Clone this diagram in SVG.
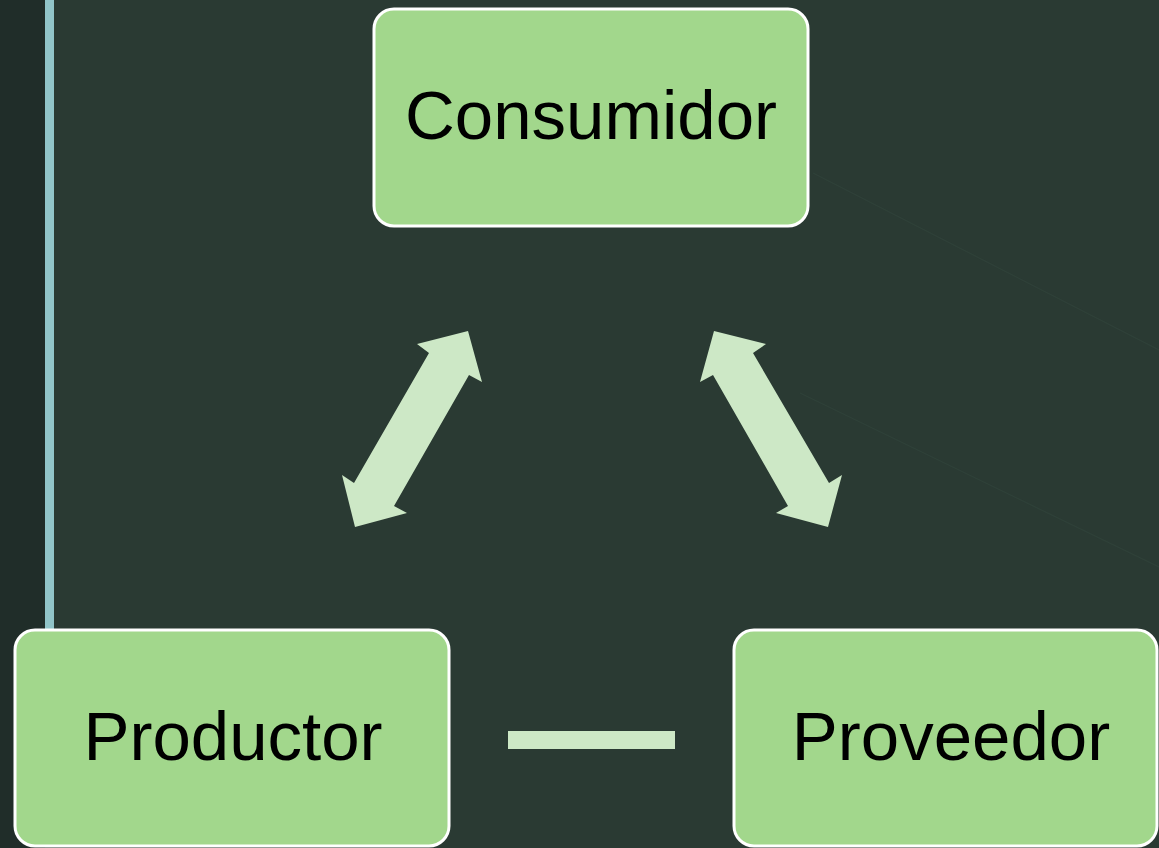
<svg xmlns="http://www.w3.org/2000/svg" width="1159" height="848" viewBox="0 0 1159 848">
<defs>
<style>
.node rect{fill:#a2d78c;stroke:#ffffff;stroke-width:3}
.node text{font-family:"Liberation Sans",Arial,sans-serif;font-size:69px;fill:#000000;text-anchor:middle}
.conn{fill:#cde8c6}
.deco{stroke:#2f4139;stroke-width:1.2;fill:none}
</style>
</defs>
<rect x="0" y="0" width="1159" height="848" fill="#2a3a33"/>
<rect x="0" y="0" width="45" height="848" fill="#202d29"/>
<rect x="45" y="0" width="9" height="630" fill="#91c4c8"/>
<line class="deco" x1="813" y1="173" x2="1159" y2="350"/>
<line class="deco" x1="800" y1="393" x2="1159" y2="567"/>
<g id="connectors">
<polygon class="conn" points="468,331 482,382 469,375 394,506 407,513 355,527 342,475 354,483 429,353 417,344"/>
<polygon class="conn" points="714,331 766,344 753,353 829,483 842,475 828,527 776,513 788,506 713,375 700,382"/>
<rect class="conn" x="508" y="731" width="167" height="18"/>
</g>
<g id="node-consumidor" class="node">
<rect x="374" y="9" width="434" height="217" rx="20" ry="20"/>
<text x="591" y="139">Consumidor</text>
</g>
<g id="node-productor" class="node">
<rect x="15" y="630" width="434" height="216" rx="20" ry="20"/>
<text x="233" y="760">Productor</text>
</g>
<g id="node-proveedor" class="node">
<rect x="734" y="630" width="423" height="216" rx="20" ry="20"/>
<text x="951" y="760">Proveedor</text>
</g>
</svg>
